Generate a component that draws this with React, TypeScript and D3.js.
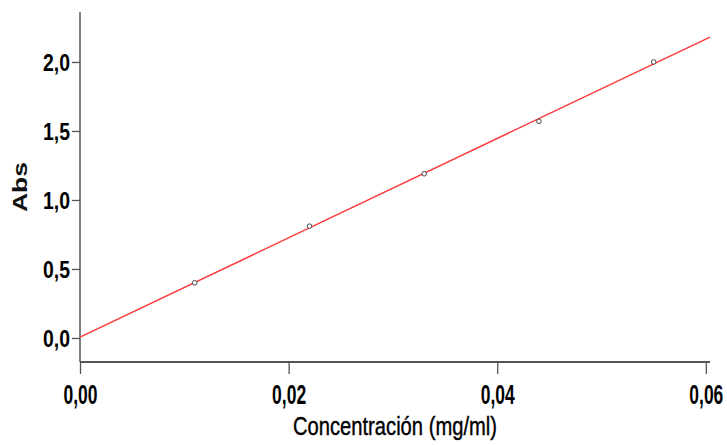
import React, { useEffect, useRef } from 'react';
import * as d3 from 'd3';

// concentration (mg/ml) and absorbance
const concentrations = [0.011, 0.022, 0.033, 0.044, 0.055];
const absorbances = [0.40, 0.81, 1.19, 1.57, 2.00];
const xTicks = [0, 0.02, 0.04, 0.06];
const yTicks = [0, 0.5, 1.0, 1.5, 2.0];

const locale = d3.formatLocale({ decimal: ',', thousands: '.', grouping: [3], currency: ['', ''] });

const App = () => {
  const chartRef = useRef<SVGSVGElement | null>(null);

  useEffect(() => {
    if (!chartRef.current) return;
    const width = 727;
    const height = 445;
    const marginLeft = 80;
    const marginRight = 17;
    const marginTop = 12;
    const marginBottom = 83;

    const x = d3.scaleLinear().domain([0, 0.0604]).range([marginLeft, width - marginRight]);
    const y = d3.scaleLinear().domain([-0.174, 2.362]).range([height - marginBottom, marginTop]);

    // least squares fit through the points
    const mx = d3.mean(concentrations)!;
    const my = d3.mean(absorbances)!;
    const sxy = d3.sum(concentrations, (c, i) => (c - mx) * (absorbances[i] - my));
    const sxx = d3.sum(concentrations, c => (c - mx) ** 2);
    const slope = sxy / sxx;
    const intercept = my - slope * mx;

    const svg = d3.select(chartRef.current);
    svg.selectAll('*').remove();
    svg.attr('width', width).attr('height', height).attr('viewBox', [0, 0, width, height]);

    const axisColor = '#555';
    const baseY = y.range()[0];

    // axes
    svg.append('g')
      .attr('transform', `translate(${marginLeft},0)`)
      .call(d3.axisLeft(y).tickValues(yTicks).tickSize(8).tickPadding(2).tickFormat(d => locale.format('.1f')(+d)))
      .call(g => g.select('.domain').remove())
      .call(g => g.selectAll('.tick line').attr('stroke', axisColor).attr('stroke-width', 1.3))
      .call(g => g.selectAll('.tick text')
        .attr('font-family', '"Liberation Sans Narrow", "Liberation Sans", sans-serif')
        .attr('font-weight', 'bold')
        .attr('font-size', 23)
        .attr('fill', '#000')
        .attr('dy', '0.36em')
        .attr('textLength', 27)
        .attr('lengthAdjust', 'spacingAndGlyphs'));

    svg.append('g')
      .attr('transform', `translate(0,${baseY})`)
      .call(d3.axisBottom(x).tickValues(xTicks).tickSize(12).tickPadding(10).tickFormat(d => locale.format('.2f')(+d)))
      .call(g => g.select('.domain').remove())
      .call(g => g.selectAll('.tick line').attr('stroke', axisColor).attr('stroke-width', 1.3))
      .call(g => g.selectAll('.tick text')
        .attr('font-family', '"Liberation Sans Narrow", "Liberation Sans", sans-serif')
        .attr('font-weight', 'bold')
        .attr('font-size', 28)
        .attr('fill', '#000')
        .attr('dy', '0.71em')
        .attr('textLength', 34)
        .attr('lengthAdjust', 'spacingAndGlyphs'));

    svg.append('line')
      .attr('x1', marginLeft).attr('x2', marginLeft)
      .attr('y1', marginTop).attr('y2', baseY)
      .attr('stroke', axisColor).attr('stroke-width', 1.5);
    svg.append('line')
      .attr('x1', marginLeft).attr('x2', width - marginRight)
      .attr('y1', baseY).attr('y2', baseY)
      .attr('stroke', axisColor).attr('stroke-width', 1.8);

    // fit line
    const [x0, x1] = x.domain();
    svg.append('path')
      .datum([x0, x1])
      .attr('fill', 'none')
      .attr('stroke', '#ff3b3b')
      .attr('stroke-width', 1.5)
      .attr('d', d3.line<number>().x(d => x(d)).y(d => y(intercept + slope * d)));

    // data points
    svg.append('g')
      .selectAll('circle')
      .data(concentrations)
      .join('circle')
      .attr('cx', d => x(d))
      .attr('cy', (_d, i) => y(absorbances[i]))
      .attr('r', 2.3)
      .attr('fill', '#fff')
      .attr('stroke', '#444')
      .attr('stroke-width', 1);

    // axis titles
    svg.append('text')
      .attr('x', (marginLeft + width - marginRight) / 2)
      .attr('y', 435)
      .attr('text-anchor', 'middle')
      .attr('font-family', '"Liberation Sans Narrow", "Liberation Sans", sans-serif')
      .attr('font-size', 25)
      .attr('fill', '#000')
      .attr('stroke', '#000')
      .attr('stroke-width', 0.4)
      .attr('textLength', 204)
      .attr('lengthAdjust', 'spacingAndGlyphs')
      .text('Concentración (mg/ml)');

    svg.append('text')
      .attr('transform', `translate(27,187) rotate(-90)`)
      .attr('text-anchor', 'middle')
      .attr('font-family', '"Liberation Sans", Arial, sans-serif')
      .attr('font-weight', 'bold')
      .attr('font-size', 20)
      .attr('fill', '#111')
      .attr('textLength', 50)
      .attr('lengthAdjust', 'spacingAndGlyphs')
      .text('Abs');
  }, []);

  return <svg ref={chartRef} style={{ position: 'absolute', left: 0, top: 0, background: '#fff' }} />;
};

export default App;
